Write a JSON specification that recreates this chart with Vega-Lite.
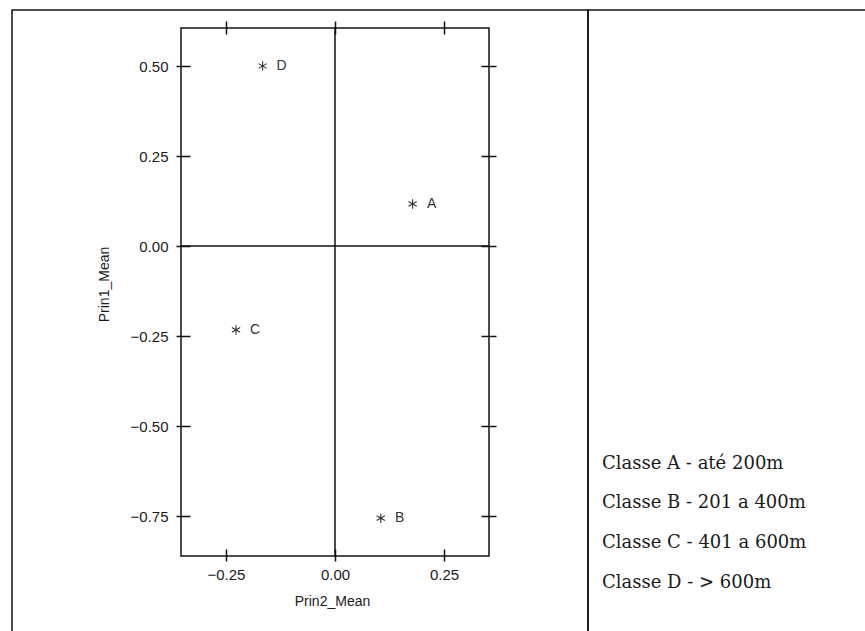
{
  "$schema": "https://vega.github.io/schema/vega-lite/v6.json",
  "background": "white",
  "padding": {"left": 11, "top": 9, "right": 0, "bottom": 0},
  "bounds": "flush",
  "config": {
    "font": "Liberation Sans",
    "concat": {"spacing": 0},
    "axis": {
      "grid": false,
      "domain": false,
      "tickColor": "#111",
      "tickWidth": 1.5,
      "labelFont": "Liberation Sans",
      "labelFontSize": 15,
      "labelColor": "#1a1a1a",
      "titleFont": "Liberation Sans",
      "titleFontSize": 14,
      "titleFontWeight": "normal",
      "titleColor": "#1a1a1a"
    }
  },
  "datasets": {
    "pontos": [
      {"classe": "A", "prin2": 0.178, "prin1": 0.117},
      {"classe": "B", "prin2": 0.105, "prin1": -0.756},
      {"classe": "C", "prin2": -0.227, "prin1": -0.233},
      {"classe": "D", "prin2": -0.166, "prin1": 0.5}
    ],
    "legenda": [
      {"linha": 1, "texto": "Classe A - até 200m"},
      {"linha": 2, "texto": "Classe B - 201 a 400m"},
      {"linha": 3, "texto": "Classe C - 401 a 600m"},
      {"linha": 4, "texto": "Classe D - > 600m"}
    ],
    "um": [{"n": 1}]
  },
  "hconcat": [
    {
      "width": 576,
      "height": 622,
      "view": {"stroke": "#111", "strokeWidth": 1.5},
      "resolve": {"axis": {"x": "independent", "y": "independent"}},
      "layer": [
        {
          "data": {"name": "um"},
          "mark": {"type": "rect", "filled": false, "stroke": "#111", "strokeWidth": 1.5},
          "encoding": {
            "x": {"datum": -0.3532, "type": "quantitative",
                  "scale": {"domain": [-0.7408, 0.5803], "nice": false, "zero": false},
                  "axis": {"orient": "top", "values": [-0.25, 0, 0.25], "labels": false, "tickSize": 13, "offset": -24, "title": null}},
            "x2": {"datum": 0.3532},
            "y": {"datum": -0.8611, "type": "quantitative",
                  "scale": {"domain": [-1.0722, 0.6556], "nice": false, "zero": false},
                  "axis": {"orient": "right", "values": [-0.75, -0.5, -0.25, 0, 0.25, 0.5], "labels": false, "tickSize": 15, "offset": -107, "title": null}},
            "y2": {"datum": 0.6056}
          }
        },
        {
          "data": {"name": "um"},
          "mark": {"type": "rule", "color": "#111", "strokeWidth": 1.5},
          "encoding": {
            "x": {"datum": 0, "type": "quantitative", "scale": {"domain": [-0.7408, 0.5803], "nice": false, "zero": false}, "axis": null},
            "y": {"datum": -0.8611, "type": "quantitative", "scale": {"domain": [-1.0722, 0.6556], "nice": false, "zero": false}, "axis": null},
            "y2": {"datum": 0.6056}
          }
        },
        {
          "data": {"name": "um"},
          "mark": {"type": "rule", "color": "#111", "strokeWidth": 1.5},
          "encoding": {
            "y": {"datum": 0, "type": "quantitative", "scale": {"domain": [-1.0722, 0.6556], "nice": false, "zero": false}, "axis": null},
            "x": {"datum": -0.3532, "type": "quantitative", "scale": {"domain": [-0.7408, 0.5803], "nice": false, "zero": false}, "axis": null},
            "x2": {"datum": 0.3532}
          }
        },
        {
          "data": {"name": "pontos"},
          "mark": {"type": "point", "shape": "M0,-1L0,1M-0.87,-0.5L0.87,0.5M-0.87,0.5L0.87,-0.5", "filled": false, "stroke": "#333", "strokeWidth": 1.1, "size": 90, "opacity": 1},
          "encoding": {
            "x": {"field": "prin2", "type": "quantitative", "title": "Prin2_Mean",
                  "scale": {"domain": [-0.7408, 0.5803], "nice": false, "zero": false},
                  "axis": {"orient": "bottom", "values": [-0.25, 0, 0.25], "format": ".2f", "tickSize": 12, "offset": -83, "labelPadding": 6, "titlePadding": 12, "titleX": 320}},
            "y": {"field": "prin1", "type": "quantitative", "title": "Prin1_Mean",
                  "scale": {"domain": [-1.0722, 0.6556], "nice": false, "zero": false},
                  "axis": {"orient": "left", "values": [-0.75, -0.5, -0.25, 0, 0.25, 0.5], "format": ".2f", "tickSize": 14, "offset": -178, "labelPadding": 8, "titlePadding": 19, "titleY": 274}}
          }
        },
        {
          "data": {"name": "pontos"},
          "mark": {"type": "text", "dx": 19, "align": "center", "baseline": "middle", "fontSize": 14, "color": "#333"},
          "encoding": {
            "x": {"field": "prin2", "type": "quantitative", "scale": {"domain": [-0.7408, 0.5803], "nice": false, "zero": false}, "axis": null},
            "y": {"field": "prin1", "type": "quantitative", "scale": {"domain": [-1.0722, 0.6556], "nice": false, "zero": false}, "axis": null},
            "text": {"field": "classe"}
          }
        }
      ]
    },
    {
      "width": 282,
      "height": 624,
      "view": {"stroke": "#111", "strokeWidth": 1.5},
      "data": {"name": "legenda"},
      "mark": {"type": "text", "align": "left", "baseline": "middle", "dx": 14, "font": "DejaVu Serif", "fontSize": 18, "color": "#1a1a1a"},
      "encoding": {
        "x": {"datum": 0, "type": "quantitative", "scale": {"domain": [0, 1]}, "axis": null},
        "y": {"field": "linha", "type": "quantitative", "scale": {"domain": [-10.44, 5.29], "reverse": true, "nice": false, "zero": false}, "axis": null},
        "text": {"field": "texto"}
      }
    }
  ]
}
